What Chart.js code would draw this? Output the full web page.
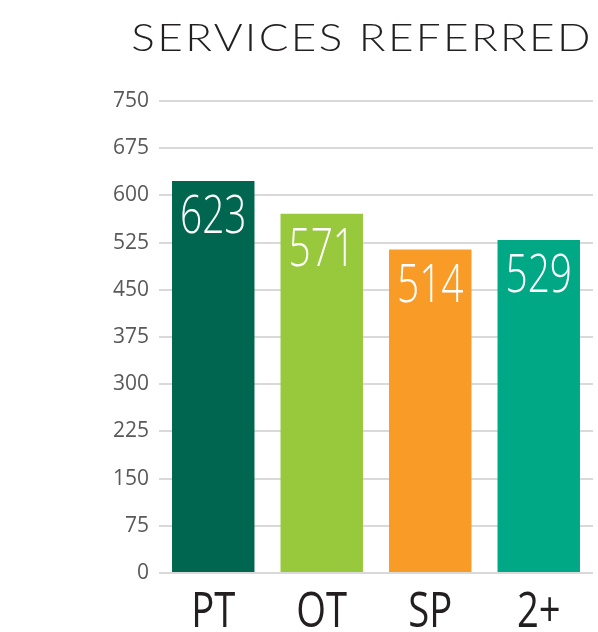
<!DOCTYPE html>
<html>
<head>
<meta charset="utf-8">
<script src="https://cdn.jsdelivr.net/npm/chart.js@4"></script>
<style>
  html, body { margin: 0; padding: 0; background: #fff; }
  #wrap { width: 598px; height: 632px; position: relative; }
  #title {
    position: absolute; top: 13px; right: 5px; margin: 0;
    font-family: Lato, sans-serif; font-weight: 300; font-size: 38px;
    letter-spacing: 2px; color: #231f20; line-height: 46px; white-space: nowrap;
    transform: scaleX(1.16); transform-origin: right center;
  }
</style>
</head>
<body>
<div id="wrap">
  <h1 id="title">SERVICES REFERRED</h1>
  <canvas id="services-chart"></canvas>
</div>
<script>
const categories = ['PT', 'OT', 'SP', '2+'];
const referred = [623, 571, 514, 529];
const barColors = ['#00664f', '#98c93c', '#f89c27', '#00a886'];
const yTicks = [0, 75, 150, 225, 300, 375, 450, 525, 600, 675, 750];

// condensed text helper
function drawNarrow(ctx, text, x, y, font, color, squeeze, baseline) {
  ctx.save();
  ctx.translate(x, y);
  ctx.scale(squeeze, 1);
  ctx.fillStyle = color;
  ctx.font = font;
  ctx.textAlign = 'center';
  ctx.textBaseline = baseline;
  ctx.fillText(text, 0, 0);
  ctx.restore();
}

// white value labels inside the bars + narrow category labels under the axis
const barText = {
  id: 'barText',
  afterDatasetsDraw(chart) {
    const ctx = chart.ctx;
    const meta = chart.getDatasetMeta(0);
    const xScale = chart.scales.x;
    meta.data.forEach((bar, i) => {
      drawNarrow(ctx, String(referred[i]), bar.x, bar.y + 37,
        '300 54px "Open Sans", sans-serif', '#ffffff', 0.72, 'middle');
    });
    categories.forEach((c, i) => {
      drawNarrow(ctx, c, xScale.getPixelForValue(i), xScale.top + 54,
        '400 49px "Open Sans", sans-serif', '#231f20', 0.78, 'alphabetic');
    });
  }
};

const ctx = document.getElementById('services-chart').getContext('2d');
new Chart(ctx, {
  type: 'bar',
  data: {
    labels: categories,
    datasets: [{
      label: 'Services referred',
      data: referred,
      backgroundColor: barColors,
      borderWidth: 0,
      barPercentage: 0.76,
      categoryPercentage: 1
    }]
  },
  options: {
    responsive: true,
    maintainAspectRatio: false,
    animation: false,
    layout: { padding: { left: 0, right: 5, top: 101, bottom: 0 } },
    plugins: {
      legend: { display: false },
      tooltip: { enabled: false }
    },
    scales: {
      x: {
        grid: { display: false, drawTicks: false },
        border: { display: false },
        ticks: { display: false },
        afterFit(scale) { scale.height = 59; }
      },
      y: {
        min: 0,
        max: 750,
        afterBuildTicks(scale) { scale.ticks = yTicks.map(v => ({ value: v })); },
        grid: { color: '#d9d9d9', lineWidth: 2, drawTicks: false },
        border: { display: false },
        ticks: {
          color: '#595959',
          padding: 10,
          font: { family: '"Open Sans", sans-serif', size: 21 }
        },
        afterFit(scale) { scale.width = 159; }
      }
    }
  },
  plugins: [barText]
});
</script>
</body>
</html>
